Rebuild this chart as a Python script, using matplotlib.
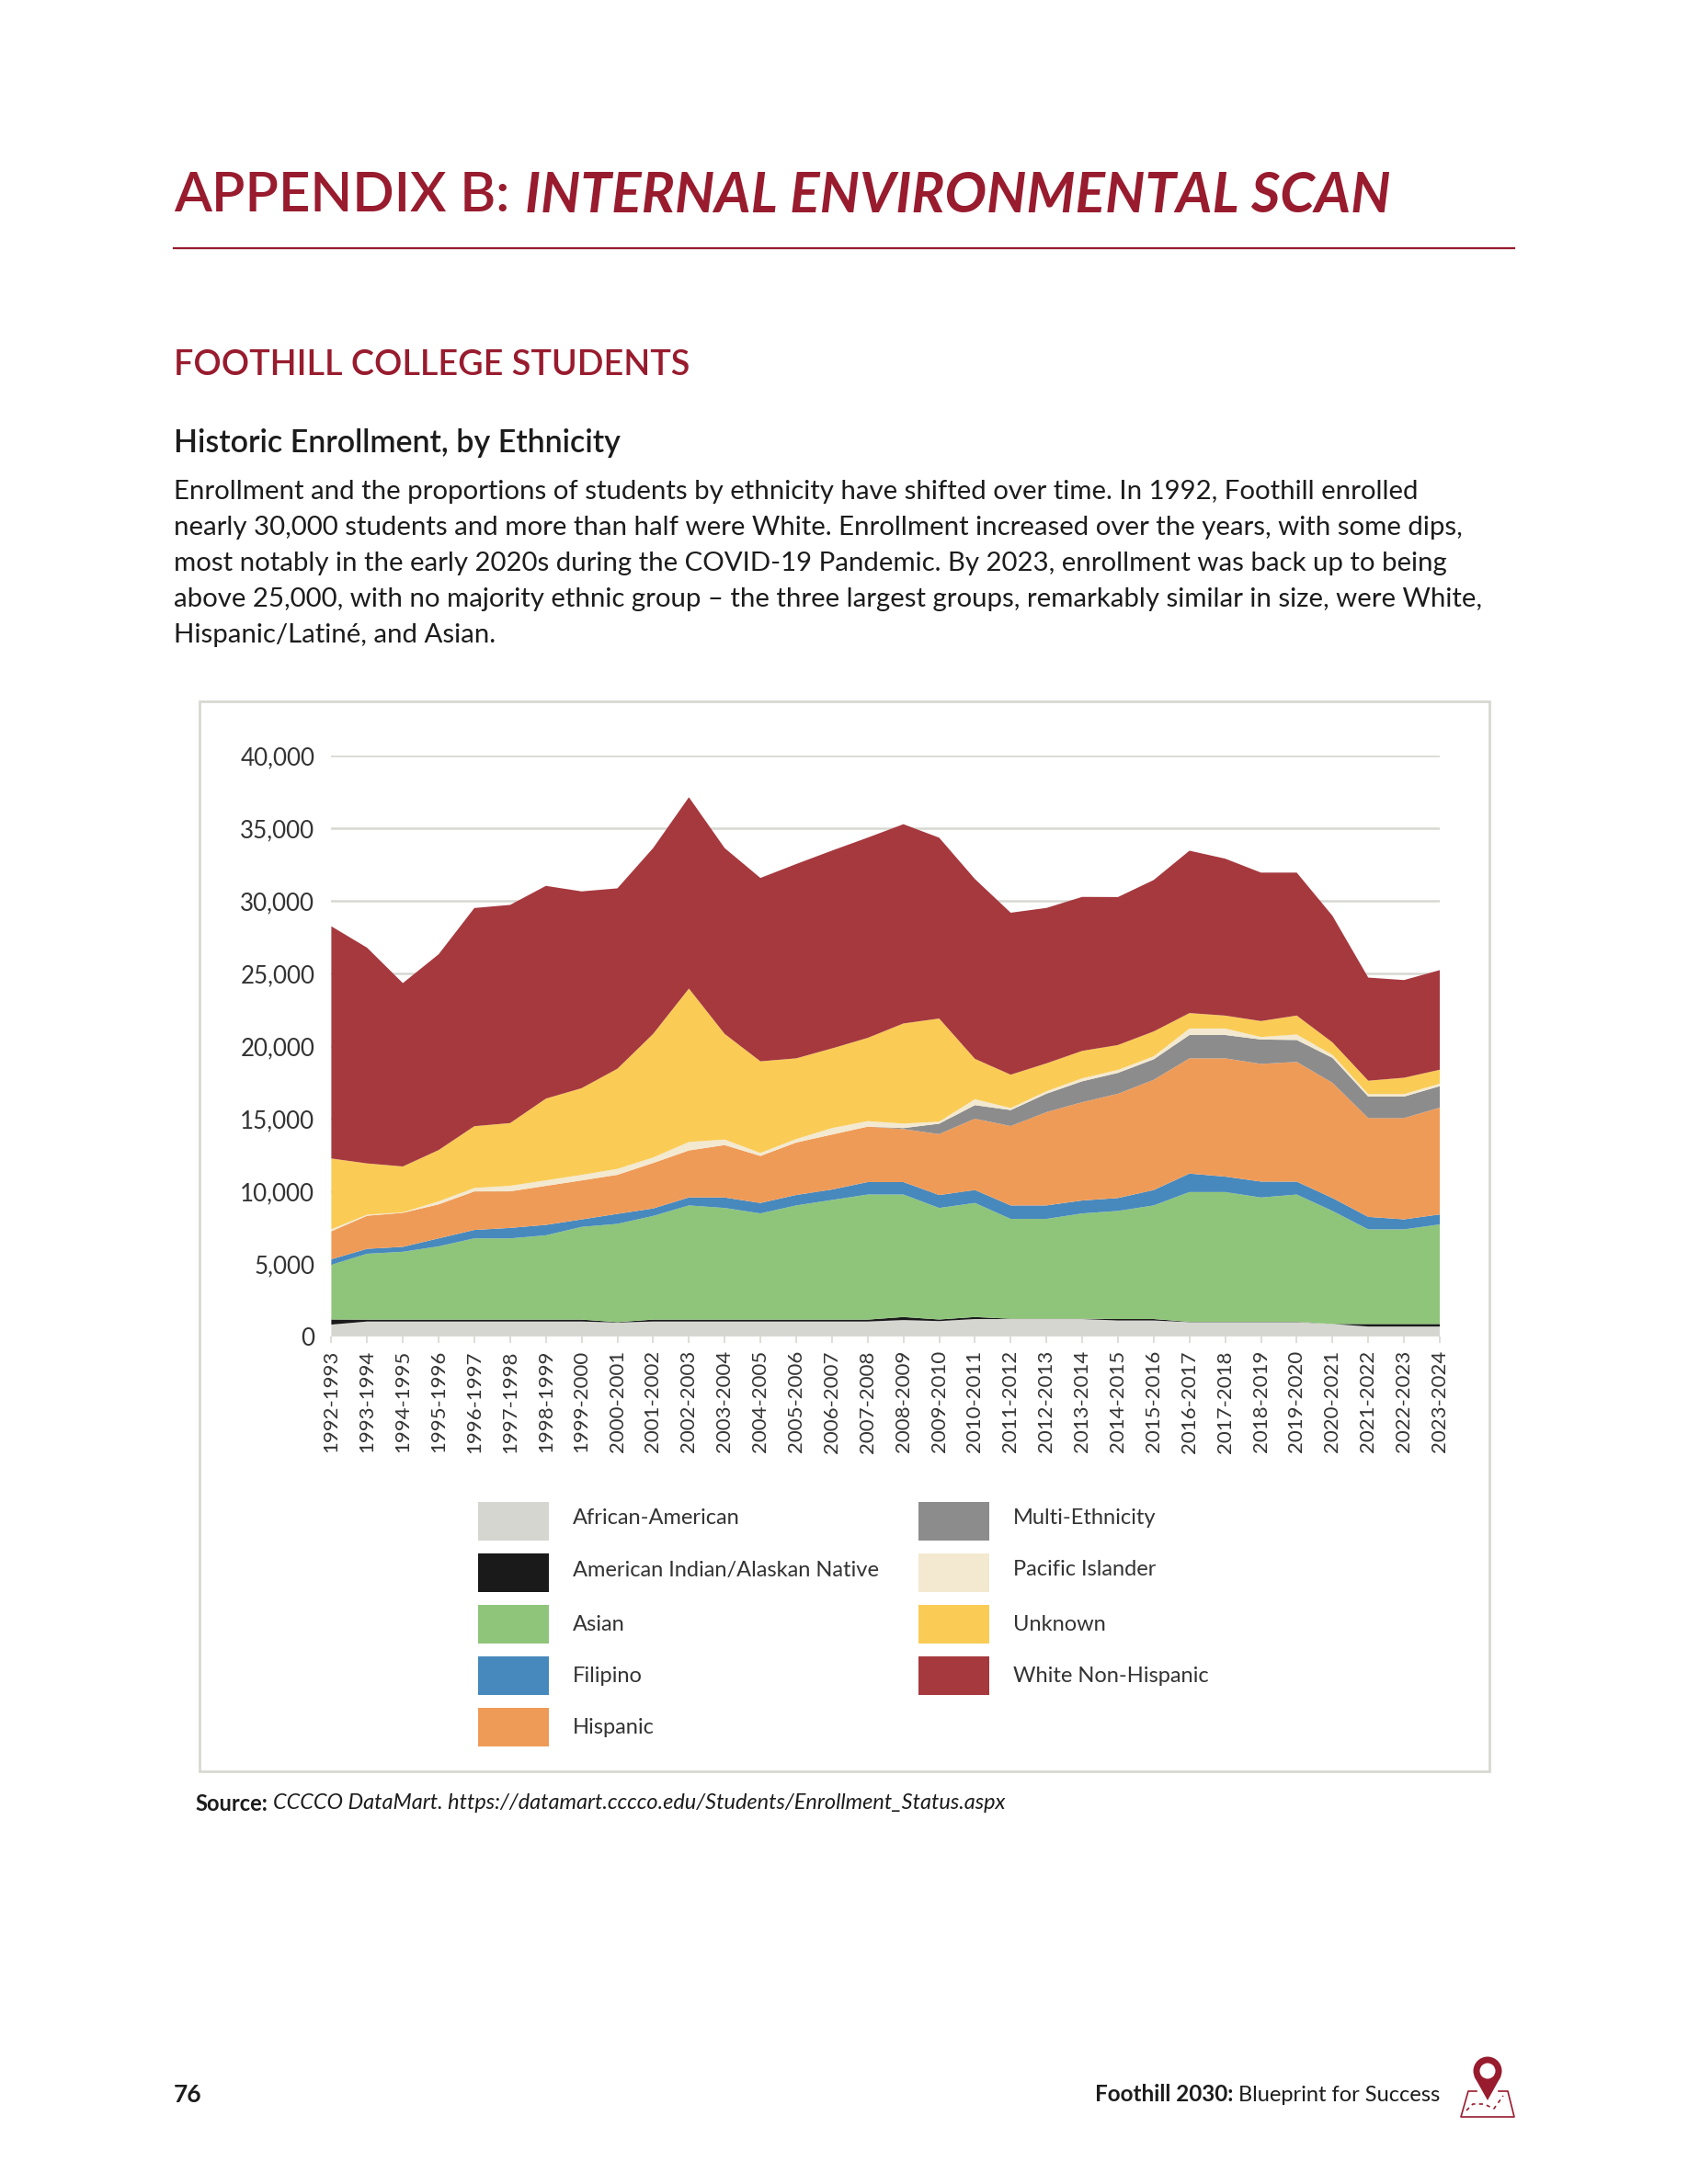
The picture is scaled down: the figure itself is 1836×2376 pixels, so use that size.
import matplotlib
matplotlib.use('Agg')
import matplotlib.pyplot as plt
from matplotlib.patches import Rectangle, Polygon, Circle

plt.rcParams['font.family'] = ['Lato', 'DejaVu Sans']

# Dados
anos = ['1992-1993', '1993-1994', '1994-1995', '1995-1996', '1996-1997', '1997-1998',
        '1998-1999', '1999-2000', '2000-2001', '2001-2002', '2002-2003', '2003-2004',
        '2004-2005', '2005-2006', '2006-2007', '2007-2008', '2008-2009', '2009-2010',
        '2010-2011', '2011-2012', '2012-2013', '2013-2014', '2014-2015', '2015-2016',
        '2016-2017', '2017-2018', '2018-2019', '2019-2020', '2020-2021', '2021-2022',
        '2022-2023', '2023-2024']

african_american = [810, 1020, 1020, 1020, 1020, 1020, 1020, 1020, 950, 1020, 1020, 1020,
                    1020, 1020, 1020, 1020, 1120, 1050, 1190, 1190, 1190, 1190, 1090, 1090,
                    980, 980, 980, 980, 850, 675, 675, 675]
american_indian = [350, 130, 130, 130, 130, 130, 130, 130, 30, 130, 130, 130,
                   130, 130, 130, 130, 210, 110, 140, 20, 20, 20, 100, 100,
                   20, 20, 20, 20, 0, 175, 175, 175]
asian = [3770, 4540, 4675, 5050, 5600, 5600, 5810, 6390, 6770, 7145, 7870, 7695,
         7320, 7870, 8245, 8620, 8440, 7685, 7860, 6880, 6880, 7260, 7450, 7830,
         8945, 8945, 8565, 8770, 7790, 6520, 6520, 6860]
filipino = [380, 340, 340, 550, 580, 720, 720, 515, 690, 515, 550, 720,
            720, 720, 720, 860, 860, 890, 890, 930, 930, 890, 890, 1060,
            1270, 1060, 1100, 890, 890, 860, 690, 690]
hispanic = [1930, 2280, 2345, 2345, 2655, 2520, 2690, 2690, 2690, 3135, 3240, 3615,
            3240, 3615, 3790, 3820, 3650, 4200, 4920, 5470, 6430, 6775, 7185, 7600,
            7940, 8150, 8110, 8250, 7940, 6810, 6980, 7360]
multi = [0, 0, 0, 0, 0, 0, 0, 0, 0, 0, 0, 0,
         0, 0, 0, 0, 70, 720, 930, 1100, 1270, 1440, 1440, 1410,
         1610, 1610, 1680, 1510, 1720, 1480, 1480, 1480]
pacific = [140, 70, 35, 205, 240, 380, 380, 380, 410, 380, 580, 380,
           205, 240, 445, 380, 310, 140, 410, 140, 170, 205, 205, 205,
           445, 445, 170, 380, 205, 170, 170, 170]
unknown = [4875, 3535, 3160, 3535, 4255, 4325, 5630, 5975, 6900, 8515, 10575, 7280,
           6315, 5560, 5490, 5735, 6900, 7105, 2780, 2300, 1920, 1890, 1715, 1715,
           1065, 890, 1100, 1305, 860, 925, 1130, 960]
white = [16000, 14865, 12635, 13490, 15035, 15035, 14660, 13560, 12430, 12805, 13185, 12805,
         12635, 13390, 13630, 13800, 13730, 12460, 12390, 11160, 10710, 10610, 10195, 10435,
         11190, 10815, 10230, 9850, 8720, 7105, 6730, 6865]

series = [african_american, american_indian, asian, filipino, hispanic, multi, pacific, unknown, white]
cores = ['#d5d6d0', '#1a1a1a', '#8fc57a', '#4789bd', '#ef9b58', '#8c8c8c', '#f3e9d0', '#facc56', '#a6393e']
nomes = ['African-American', 'American Indian/Alaskan Native', 'Asian', 'Filipino', 'Hispanic',
         'Multi-Ethnicity', 'Pacific Islander', 'Unknown', 'White Non-Hispanic']
yticks = [0, 5000, 10000, 15000, 20000, 25000, 30000, 35000, 40000]

paragrafo = ['Enrollment and the proportions of students by ethnicity have shifted over time. In 1992, Foothill enrolled',
             'nearly 30,000 students and more than half were White. Enrollment increased over the years, with some dips,',
             'most notably in the early 2020s during the COVID-19 Pandemic. By 2023, enrollment was back up to being',
             'above 25,000, with no majority ethnic group \u2013 the three largest groups, remarkably similar in size, were White,',
             'Hispanic/Latin\u00e9, and Asian.']

W, H = 1836, 2376
VERMELHO = '#981b2e'
PRETO = '#1c1c1c'
fig = plt.figure(figsize=(W / 100, H / 100), dpi=100)

# Camada da página, em pixels
pg = fig.add_axes([0, 0, 1, 1])
pg.set_xlim(0, W)
pg.set_ylim(H, 0)
pg.axis('off')

pg.text(189, 213, 'APPENDIX B:', fontsize=43, color=VERMELHO, va='center', fontweight='semibold')
pg.text(571, 213, 'INTERNAL ENVIRONMENTAL SCAN', fontsize=43.6, color=VERMELHO, va='center',
        fontweight='bold', style='italic')
pg.plot([189, 1647], [270, 270], color=VERMELHO, lw=1.6)
pg.text(189, 397, 'FOOTHILL COLLEGE STUDENTS', fontsize=27.2, color=VERMELHO, va='center', fontweight='semibold')
pg.text(189, 482, 'Historic Enrollment, by Ethnicity', fontsize=24.5, color=PRETO, va='center', fontweight='semibold')
for i, linha in enumerate(paragrafo):
    pg.text(189, 535 + i * 39, linha, fontsize=21.15, color=PRETO, va='center')

# Caixa do gráfico
pg.add_patch(Rectangle((217, 763), 1403, 1164, fc='white', ec='#d8d8d2', lw=2))

# Legenda
linhas_leg = [1655, 1711, 1767, 1823, 1879]
linhas_txt = [1651, 1708, 1768, 1824, 1880]
for i, nome in enumerate(nomes):
    k = i if i < 5 else i - 5
    x = 520 if i < 5 else 999
    pg.add_patch(Rectangle((x, linhas_leg[k] - 21), 77, 42, fc=cores[i], ec='none'))
    pg.text(x + 103, linhas_txt[k], nome, fontsize=17, color='#333333', va='center')

pg.text(212, 1962, 'Source:', fontsize=17, color=PRETO, va='center', fontweight='bold')
pg.text(297, 1962, 'CCCCO DataMart. https://datamart.cccco.edu/Students/Enrollment_Status.aspx',
        fontsize=16.9, color=PRETO, va='center', style='italic')

# Rodapé
pg.text(189, 2279, '76', fontsize=19, color=PRETO, va='center', fontweight='bold')
pg.text(1191, 2279, 'Foothill 2030:', fontsize=17.5, color=PRETO, va='center', fontweight='bold')
pg.text(1347, 2279, 'Blueprint for Success', fontsize=17, color=PRETO, va='center')

# Ícone do mapa
pg.plot([1606, 1597, 1589, 1647, 1640, 1630], [2275, 2275, 2303, 2303, 2275, 2275], color=VERMELHO, lw=1.2)
pg.plot([1595, 1602, 1614, 1625, 1635], [2296, 2289, 2289, 2294, 2280], color=VERMELHO, lw=1.2, ls=(0, (2.5, 2.5)))
pg.add_patch(Polygon([[1603.5, 2259], [1632.5, 2259], [1618, 2285]], fc=VERMELHO, ec='none'))
pg.add_patch(Circle((1618, 2253), 15.5, fc=VERMELHO, ec='none'))
pg.add_patch(Circle((1618, 2253), 8.5, fc='white', ec='none'))

# Gráfico de área empilhada
esq, dir_, topo, base = 360.4, 1566, 822.3, 1453.8
ax = fig.add_axes([esq / W, 1 - base / H, (dir_ - esq) / W, (base - topo) / H])
ax.patch.set_alpha(0)
x = list(range(len(anos)))
ax.stackplot(x, series, colors=cores, linewidth=0, zorder=3)
ax.set_xlim(0, len(anos) - 1)
ax.set_ylim(0, 40000)
ax.set_yticks(yticks)
ax.set_yticklabels(['{:,}'.format(v) for v in yticks], fontsize=18.7, color='#333333')
ax.set_xticks(x)
ax.set_xticklabels(anos, rotation=90, fontsize=16, color='#333333')
ax.grid(True, axis='y', color='#d8d8d2', lw=1.8, zorder=1)
ax.set_axisbelow(True)
ax.tick_params(axis='y', length=0, pad=13)
ax.tick_params(axis='x', length=5, width=1.2, color='#d8d8d2', pad=6)
for s in ax.spines.values():
    s.set_visible(False)

fig.savefig('out.png', dpi=100)
